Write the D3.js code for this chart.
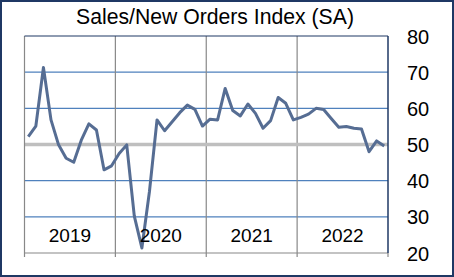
<!DOCTYPE html>
<html><head><meta charset="utf-8">
<script src="https://cdn.jsdelivr.net/npm/d3@7"></script>
<style>
html,body{margin:0;padding:0;background:#fff;}
svg{display:block;font-family:"Liberation Sans",Arial,sans-serif;}
</style></head>
<body>
<svg id="c" width="454" height="277"></svg>
<script>
const years = ["2019","2020","2021","2022"];
const values = [
  52.2,55.1,71.3,56.8,49.9,46.2,45.1,51.2,55.7,54.0,43.0,44.1,
  47.5,49.9,30.2,21.4,37.0,56.8,53.8,56.3,58.8,60.9,59.7,55.1,
  57.0,56.8,65.5,59.4,57.9,61.2,58.6,54.5,56.6,63.0,61.4,56.8,
  57.5,58.4,60.0,59.7,57.2,54.8,55.0,54.5,54.3,48.0,51.0,49.6
];
const yTicks = [20,30,40,50,60,70,80];
const title = "Sales/New Orders Index (SA)";

const svg = d3.select("#c");
const W=454,H=277;
const L=24.5,R=388,T=36,B=253;

svg.append("rect").attr("x",1).attr("y",1).attr("width",W-2).attr("height",H-2)
  .attr("fill","#fff").attr("stroke","#1f3864").attr("stroke-width",2);

const y = d3.scaleLinear().domain([20,80]).range([B,T]);
const xm = d3.scaleBand().domain(d3.range(values.length)).range([L,R]);
const xy = d3.scaleBand().domain(years).range([L,R]);

// horizontal gridlines
svg.append("g").selectAll("line").data(yTicks.filter(v=>v!==20&&v!==80&&v!==50)).join("line")
  .attr("x1",L).attr("x2",R).attr("y1",d=>y(d)).attr("y2",d=>y(d))
  .attr("stroke","#4f81bd").attr("stroke-width",1.2);
// vertical separators
const bounds = years.map(d=>xy(d)).concat([R]);
svg.append("g").selectAll("line").data(bounds.slice(1,-1)).join("line")
  .attr("x1",d=>d).attr("x2",d=>d).attr("y1",T).attr("y2",B+4)
  .attr("stroke","#888").attr("stroke-width",1.2);
// 50 line
svg.append("line").attr("x1",L).attr("x2",R).attr("y1",y(50)).attr("y2",y(50))
  .attr("stroke","#bfbfbf").attr("stroke-width",3.5);
// frame: left & bottom gray, top & right navy
svg.append("line").attr("x1",L).attr("x2",L).attr("y1",T).attr("y2",B+4).attr("stroke","#888").attr("stroke-width",1.2);
svg.append("line").attr("x1",L).attr("x2",R).attr("y1",B).attr("y2",B).attr("stroke","#888").attr("stroke-width",1.2);
svg.append("line").attr("x1",R).attr("x2",R).attr("y1",B).attr("y2",B+4).attr("stroke","#888").attr("stroke-width",1.2);
svg.append("line").attr("x1",L).attr("x2",R).attr("y1",T).attr("y2",T).attr("stroke","#1f3864").attr("stroke-width",1.2);
svg.append("line").attr("x1",R).attr("x2",R).attr("y1",T).attr("y2",B).attr("stroke","#1f3864").attr("stroke-width",1.5);

// line
const line = d3.line().x((d,i)=>xm(i)+xm.bandwidth()/2).y(d=>y(d));
svg.append("path").datum(values).attr("d",line).attr("fill","none")
  .attr("stroke","#566d93").attr("stroke-width",3).attr("stroke-linejoin","round");

// right axis labels
const ax = d3.axisRight(y).tickValues(yTicks).tickSize(0).tickPadding(0);
const g = svg.append("g").attr("transform",`translate(407,0)`).call(ax);
g.select(".domain").remove();
g.selectAll("text").attr("font-size",20).attr("fill","#000")
  .attr("font-family","'Liberation Sans',Arial,sans-serif").attr("text-anchor","start").attr("dy","0.35em");

// year labels
svg.append("g").selectAll("text").data(years).join("text")
  .attr("x",d=>xy(d)+xy.bandwidth()/2).attr("y",242).attr("text-anchor","middle")
  .attr("font-size",19).attr("fill","#000").text(d=>d);

// title
svg.append("text").attr("x",215).attr("y",24).attr("text-anchor","middle")
  .attr("font-size",21.2).attr("fill","#000").text(title);
</script>
</body></html>
